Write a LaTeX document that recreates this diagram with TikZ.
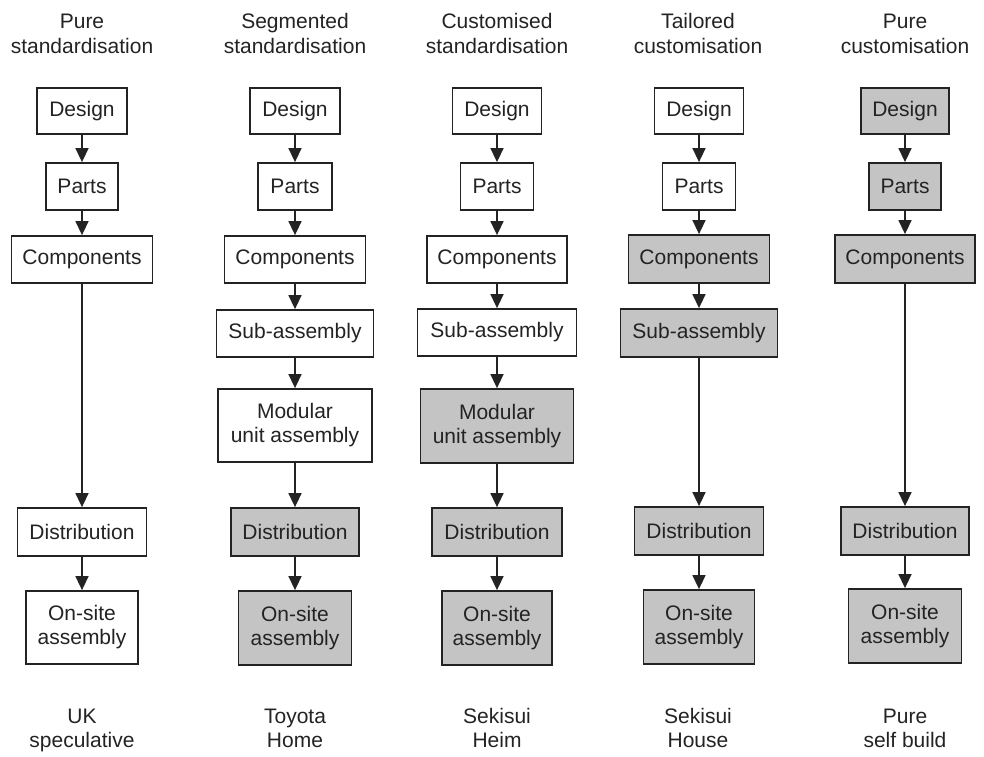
\documentclass[tikz,border=0pt]{standalone}
\usepackage{fontspec}
\setmainfont{Liberation Sans}
\usetikzlibrary{arrows.meta}
\definecolor{boxgray}{RGB}{196,196,196}
\definecolor{inkgray}{RGB}{35,35,35}
\newcommand{\twolines}[2]{\strut#1\\\strut#2}
\tikzset{
  stage/.style={draw=inkgray, line width=1.8pt, fill=white, align=center,
    font=\fontsize{21}{24}\selectfont, inner sep=0pt, text=inkgray},
  shaded/.style={stage, fill=boxgray},
  flow/.style={draw=inkgray, line width=1.5pt, -{Triangle[width=13pt,length=14pt]}},
  caption/.style={align=center, font=\fontsize{21}{25}\selectfont, text=inkgray, inner sep=0pt},
  example/.style={caption, font=\fontsize{21}{24}\selectfont}
}
\begin{document}
\begin{tikzpicture}[x=1pt,y=-1pt]
\useasboundingbox (0,0) rectangle (984,756);

% column headings
\node[caption] (h1) at (82,36) {\twolines{Pure}{standardisation}};
\node[caption] (h2) at (295,36) {\twolines{Segmented}{standardisation}};
\node[caption] (h3) at (497,36) {\twolines{Customised}{standardisation}};
\node[caption] (h4) at (698,36) {\twolines{Tailored}{customisation}};
\node[caption] (h5) at (905,36) {\twolines{Pure}{customisation}};

% column 1: pure standardisation
\node[stage, minimum width=90, minimum height=46] (d1) at (82,111) {Design};
\node[stage, minimum width=72, minimum height=47] (p1) at (82,186.5) {Parts};
\node[stage, minimum width=141, minimum height=47] (c1) at (82,259.5) {Components};
\node[stage, minimum width=129, minimum height=48] (t1) at (82,532) {Distribution};
\node[stage, minimum width=112, minimum height=73] (o1) at (82,627.5) {On-site\\assembly};
\draw[flow] (d1) -- (p1);
\draw[flow] (p1) -- (c1);
\draw[flow] (c1) -- (t1);
\draw[flow] (t1) -- (o1);

% column 2: segmented standardisation
\node[stage, minimum width=90, minimum height=46] (d2) at (295,111) {Design};
\node[stage, minimum width=74, minimum height=47] (p2) at (295,186.5) {Parts};
\node[stage, minimum width=141, minimum height=47] (c2) at (295,259.5) {Components};
\node[stage, minimum width=157, minimum height=47] (s2) at (295,333.5) {Sub-assembly};
\node[stage, minimum width=154, minimum height=73] (m2) at (295,425.5) {Modular\\unit assembly};
\node[shaded, minimum width=128, minimum height=48] (t2) at (295,532) {Distribution};
\node[shaded, minimum width=113, minimum height=74] (o2) at (295,628) {On-site\\assembly};
\draw[flow] (d2) -- (p2);
\draw[flow] (p2) -- (c2);
\draw[flow] (c2) -- (s2);
\draw[flow] (s2) -- (m2);
\draw[flow] (m2) -- (t2);
\draw[flow] (t2) -- (o2);

% column 3: customised standardisation
\node[stage, minimum width=89, minimum height=46] (d3) at (497,111) {Design};
\node[stage, minimum width=73, minimum height=47] (p3) at (497,186.5) {Parts};
\node[stage, minimum width=140, minimum height=47] (c3) at (497,259.5) {Components};
\node[stage, minimum width=159, minimum height=47] (s3) at (497,332.5) {Sub-assembly};
\node[shaded, minimum width=153, minimum height=74] (m3) at (497,426) {Modular\\unit assembly};
\node[shaded, minimum width=130, minimum height=48] (t3) at (497,532) {Distribution};
\node[shaded, minimum width=110, minimum height=74] (o3) at (497,628) {On-site\\assembly};
\draw[flow] (d3) -- (p3);
\draw[flow] (p3) -- (c3);
\draw[flow] (c3) -- (s3);
\draw[flow] (s3) -- (m3);
\draw[flow] (m3) -- (t3);
\draw[flow] (t3) -- (o3);

% column 4: tailored customisation
\node[stage, minimum width=89, minimum height=46] (d4) at (699,111) {Design};
\node[stage, minimum width=73, minimum height=47] (p4) at (699,186.5) {Parts};
\node[shaded, minimum width=141, minimum height=48] (c4) at (699,259) {Components};
\node[shaded, minimum width=157, minimum height=48] (s4) at (699,333) {Sub-assembly};
\node[shaded, minimum width=129, minimum height=48] (t4) at (699,531) {Distribution};
\node[shaded, minimum width=111, minimum height=74] (o4) at (699,627) {On-site\\assembly};
\draw[flow] (d4) -- (p4);
\draw[flow] (p4) -- (c4);
\draw[flow] (c4) -- (s4);
\draw[flow] (s4) -- (t4);
\draw[flow] (t4) -- (o4);

% column 5: pure customisation
\node[shaded, minimum width=88, minimum height=46] (d5) at (905,111) {Design};
\node[shaded, minimum width=72, minimum height=47] (p5) at (905,186.5) {Parts};
\node[shaded, minimum width=140, minimum height=48] (c5) at (905,259) {Components};
\node[shaded, minimum width=128, minimum height=48] (t5) at (905,531) {Distribution};
\node[shaded, minimum width=113, minimum height=74] (o5) at (905,626) {On-site\\assembly};
\draw[flow] (d5) -- (p5);
\draw[flow] (p5) -- (c5);
\draw[flow] (c5) -- (t5);
\draw[flow] (t5) -- (o5);

% examples below each column
\node[example] (e1) at (82,731) {\twolines{UK}{speculative}};
\node[example] (e2) at (295,731) {\twolines{Toyota}{Home}};
\node[example] (e3) at (497,731) {\twolines{Sekisui}{Heim}};
\node[example] (e4) at (698,731) {\twolines{Sekisui}{House}};
\node[example] (e5) at (905,731) {\twolines{Pure}{self build}};
\end{tikzpicture}
\end{document}
